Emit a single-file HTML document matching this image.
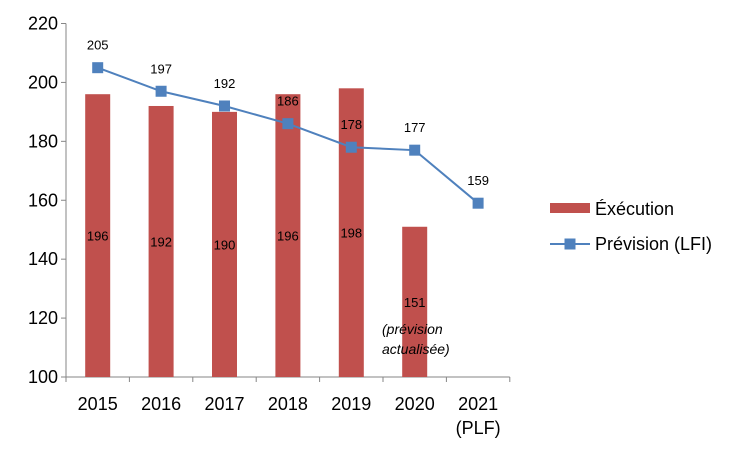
<!DOCTYPE html>
<html><head><meta charset="utf-8"><style>
html,body{margin:0;padding:0;background:#fff;}
svg{display:block;font-family:"Liberation Sans",sans-serif;}
</style></head><body>
<svg id="c" width="750" height="451"></svg>
<script>
const categories=["2015","2016","2017","2018","2019","2020","2021"];
const execution=[196,192,190,196,198,151,null];
const prevision=[205,197,192,186,178,177,159];
const yTicks=[100,120,140,160,180,200,220];
const svg=document.getElementById('c');
const NS='http://www.w3.org/2000/svg';
const x0=66,bw=63.4,yBase=377,yTop=23.5;
const y=v=>yBase-(v-100)/120*(yBase-yTop);
const xc=i=>x0+bw*(i+0.5);
function mk(t,a,p){const e=document.createElementNS(NS,t);for(const k in a)e.setAttribute(k,a[k]);(p||svg).appendChild(e);return e;}
// axes
let e=mk('line',{x1:x0,y1:yTop,x2:x0,y2:yBase,stroke:'#868686'});


e=mk('line',{x1:x0,y1:yBase,x2:x0+bw*7,y2:yBase,stroke:'#868686'});


yTicks.forEach(v=>{
 mk('line',{x1:x0-5,x2:x0,y1:y(v),y2:y(v),stroke:'#868686'});
 const t=mk('text',{x:58,y:y(v)+6,'text-anchor':'end','font-size':18});t.textContent=v;
 
 
});
for(let i=0;i<=7;i++)mk('line',{x1:x0+bw*i,x2:x0+bw*i,y1:yBase,y2:yBase+5,stroke:'#868686'});
categories.forEach((c,i)=>{
 const t=mk('text',{x:xc(i),y:410,'text-anchor':'middle','font-size':18});t.textContent=c;
 
 
});
const t2=mk('text',{x:xc(6),y:434,'text-anchor':'middle','font-size':18});t2.textContent='(PLF)';


// bars
execution.forEach((v,i)=>{
 if(v==null)return;
 const r=mk('rect',{x:xc(i)-12.5,y:y(v),width:25,height:yBase-y(v),fill:'#c0504d'});
 
 
 const t=mk('text',{x:xc(i),y:(y(v)+yBase)/2+5,'text-anchor':'middle','font-size':13});t.textContent=v;
 
 
});
const n=mk('text',{x:382,y:334,'font-size':14,'font-style':'italic'});n.textContent='(prévision';


const n2=mk('text',{x:382,y:354,'font-size':14,'font-style':'italic'});n2.textContent='actualisée)';


// line
const l=mk('polyline',{points:prevision.map((v,i)=>xc(i)+','+y(v)).join(' '),fill:'none',stroke:'#4f81bd','stroke-width':2});


prevision.forEach((v,i)=>{
 const r=mk('rect',{x:xc(i)-5.5,y:y(v)-5.5,width:11,height:11,fill:'#4f81bd'});
 
 
 const t=mk('text',{x:xc(i),y:y(v)-18,'text-anchor':'middle','font-size':13});t.textContent=v;
 
 
});
// legend
const g=mk('g',{});


e=mk('rect',{x:550,y:203,width:40,height:10,fill:'#c0504d'},g);


e=mk('text',{x:595,y:215,'font-size':18},g);e.textContent='Éxécution';


mk('line',{x1:550,x2:590,y1:244,y2:244,stroke:'#4f81bd','stroke-width':2},g);
e=mk('rect',{x:564.5,y:238.5,width:11,height:11,fill:'#4f81bd'},g);


e=mk('text',{x:595,y:250,'font-size':18},g);e.textContent='Prévision (LFI)';


</script>
</body></html>
